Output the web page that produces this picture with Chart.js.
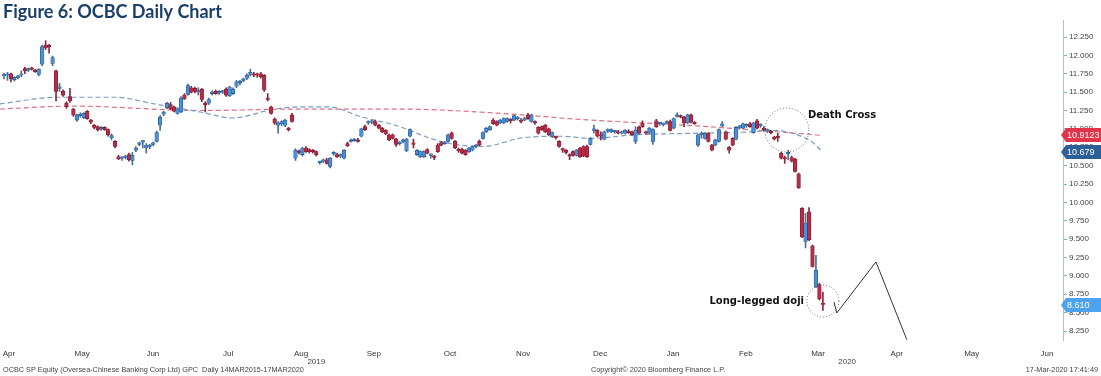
<!DOCTYPE html>
<html lang="en">
<head>
<meta charset="UTF-8" />
<title>OCBC Daily Chart</title>
<script src="https://cdn.jsdelivr.net/npm/chart.js"></script>
<style>
  html, body { margin: 0; padding: 0; background: #fff; }
  #wrap { width: 1101px; height: 376px; }
</style>
</head>
<body>
<div id="wrap"><canvas id="ocbc" width="1101" height="376"></canvas></div>
<script>
// daily candles, Apr 2019 - 17 Mar 2020 (index = trading day)
const opens = [
  11.72,11.73,11.75,11.67,11.70,11.73,11.82,11.80,11.82,11.80,11.74,11.88,12.14,12.13,11.89,11.79,11.55,11.51,11.35,11.44,
  11.27,11.12,11.18,11.15,11.24,11.12,11.05,11.03,11.00,11.02,10.99,10.88,10.83,10.62,10.60,10.61,10.65,10.57,10.71,10.79,
  10.82,10.74,10.76,10.79,10.83,11.05,11.20,11.29,11.33,11.30,11.21,11.23,11.46,11.47,11.56,11.55,11.50,11.54,11.35,11.35,
  11.48,11.51,11.49,11.50,11.54,11.45,11.48,11.58,11.63,11.66,11.69,11.74,11.75,11.74,11.75,11.73,11.42,11.30,11.13,11.05,
  11.07,11.05,11.00,11.19,10.60,10.69,10.65,10.74,10.72,10.71,10.69,10.54,10.56,10.58,10.49,10.66,10.65,10.63,10.60,10.80,
  10.83,10.84,10.85,10.90,11.03,11.08,11.09,11.10,11.05,11.01,10.98,10.92,10.92,10.86,10.80,10.83,10.70,10.90,10.80,10.65,
  10.62,10.62,10.72,10.64,10.62,10.78,10.81,10.80,10.83,10.94,10.83,10.72,10.72,10.71,10.69,10.71,10.76,10.83,10.87,10.96,
  10.99,11.12,11.10,11.08,11.08,11.10,11.12,11.12,11.14,11.12,11.12,11.19,11.10,11.09,11.02,11.03,11.05,11.00,10.90,10.89,
  10.83,10.72,10.71,10.64,10.69,10.64,10.74,10.76,10.76,10.79,10.98,10.98,10.92,10.86,10.97,10.96,10.96,10.96,10.94,10.94,
  10.97,10.96,10.83,11.02,11.08,10.95,10.94,10.83,11.11,11.07,11.06,11.08,11.10,11.01,11.17,11.17,11.16,11.08,11.19,11.08,
  10.78,10.92,10.87,10.94,10.78,10.78,10.83,11.04,10.96,10.75,10.87,10.86,11.02,11.01,11.04,11.07,10.95,11.11,11.04,11.01,
  10.97,10.96,10.89,10.89,10.67,10.60,10.66,10.61,10.59,10.39,9.92,9.47,9.87,9.41,8.85,8.88,8.63
];
const highs = [
  11.76,11.77,11.76,11.71,11.73,11.79,11.84,11.83,11.84,11.81,11.82,12.14,12.20,12.15,11.99,11.80,11.62,11.53,11.37,11.55,
  11.28,11.20,11.22,11.22,11.25,11.13,11.06,11.04,11.03,11.03,11.00,10.93,10.84,10.64,10.62,10.64,10.67,10.68,10.76,10.82,
  10.84,10.80,10.79,10.82,10.97,11.18,11.24,11.36,11.36,11.31,11.28,11.44,11.48,11.61,11.58,11.57,11.56,11.55,11.37,11.42,
  11.52,11.53,11.52,11.52,11.56,11.58,11.56,11.66,11.66,11.69,11.75,11.81,11.77,11.76,11.77,11.74,11.48,11.31,11.15,11.10,
  11.11,11.13,11.02,11.21,10.73,10.71,10.75,10.76,10.73,10.72,10.70,10.56,10.59,10.60,10.61,10.69,10.67,10.66,10.72,10.82,
  10.86,10.87,10.87,11.01,11.05,11.11,11.12,11.12,11.06,11.02,10.99,10.93,10.93,10.87,10.83,10.86,10.87,11.00,10.86,10.72,
  10.70,10.70,10.73,10.66,10.64,10.80,10.83,10.83,10.93,10.96,10.84,10.74,10.74,10.72,10.75,10.77,10.79,10.85,10.96,11.02,
  11.04,11.14,11.11,11.13,11.15,11.15,11.14,11.19,11.17,11.14,11.16,11.21,11.20,11.11,11.03,11.04,11.06,11.01,10.96,10.90,
  10.84,10.74,10.72,10.66,10.70,10.72,10.75,10.77,10.78,10.88,11.05,10.99,10.96,10.97,11.00,11.00,10.98,10.98,10.97,10.99,
  10.99,10.97,11.03,11.04,11.11,10.97,11.02,11.00,11.13,11.09,11.08,11.11,11.12,11.15,11.22,11.19,11.17,11.20,11.20,11.10,
  10.93,10.96,10.95,10.95,10.79,10.86,11.00,11.10,10.97,10.76,10.88,11.03,11.05,11.08,11.07,11.09,11.09,11.13,11.07,11.03,
  11.00,10.98,10.90,10.94,10.68,10.63,10.71,10.63,10.60,10.40,9.93,9.85,9.93,9.42,9.28,8.90,8.78
];
const lows = [
  11.68,11.66,11.64,11.65,11.68,11.71,11.75,11.78,11.80,11.77,11.72,11.86,12.08,12.03,11.86,11.38,11.51,11.44,11.28,11.36,
  11.17,11.10,11.16,11.14,11.13,11.07,11.00,10.97,10.98,10.98,10.90,10.85,10.74,10.58,10.57,10.59,10.56,10.51,10.69,10.77,
  10.74,10.67,10.73,10.77,10.82,10.98,11.18,11.27,11.26,11.23,11.20,11.22,11.40,11.46,11.49,11.49,11.46,11.37,11.23,11.33,
  11.46,11.47,11.47,11.48,11.44,11.44,11.47,11.56,11.60,11.64,11.67,11.72,11.71,11.70,11.69,11.51,11.38,11.20,11.06,10.94,
  11.04,11.03,10.97,11.09,10.57,10.66,10.63,10.68,10.67,10.67,10.63,10.52,10.54,10.52,10.47,10.64,10.61,10.61,10.59,10.76,
  10.82,10.83,10.82,10.89,10.98,11.06,11.07,11.04,11.00,10.95,10.92,10.84,10.86,10.76,10.78,10.81,10.69,10.89,10.74,10.64,
  10.61,10.61,10.66,10.60,10.58,10.68,10.77,10.79,10.82,10.86,10.73,10.68,10.66,10.64,10.68,10.70,10.74,10.77,10.86,10.95,
  10.98,11.06,11.04,11.07,11.07,11.09,11.08,11.11,11.12,11.08,11.11,11.13,11.09,11.06,10.93,10.98,10.95,10.91,10.88,10.86,
  10.75,10.68,10.66,10.58,10.63,10.63,10.61,10.62,10.61,10.78,10.94,10.89,10.85,10.85,10.95,10.95,10.94,10.93,10.93,10.93,
  10.94,10.91,10.80,10.93,11.02,10.93,10.93,10.79,11.02,11.05,11.04,11.07,10.97,11.00,11.16,11.15,11.03,11.07,11.08,11.06,
  10.76,10.87,10.86,10.82,10.70,10.77,10.82,11.03,10.85,10.67,10.77,10.85,11.00,11.00,11.02,11.02,10.94,11.00,11.02,10.97,
  10.95,10.93,10.85,10.83,10.59,10.53,10.58,10.55,10.41,10.19,9.52,9.38,9.48,9.12,8.84,8.67,8.53
];
const closes = [
  11.73,11.74,11.68,11.70,11.72,11.75,11.79,11.82,11.81,11.78,11.81,12.12,12.10,12.12,11.97,11.51,11.57,11.46,11.30,11.38,
  11.19,11.19,11.20,11.21,11.14,11.09,11.02,10.99,11.01,10.99,10.92,10.91,10.76,10.59,10.60,10.62,10.58,10.64,10.74,10.81,
  10.83,10.78,10.78,10.80,10.95,11.16,11.23,11.35,11.27,11.24,11.27,11.42,11.41,11.59,11.50,11.51,11.52,11.40,11.33,11.40,
  11.50,11.48,11.50,11.51,11.46,11.57,11.54,11.64,11.64,11.67,11.73,11.77,11.73,11.73,11.71,11.53,11.40,11.21,11.08,11.08,
  11.10,11.12,10.99,11.10,10.71,10.68,10.74,10.69,10.69,10.69,10.65,10.55,10.57,10.53,10.60,10.67,10.62,10.64,10.71,10.77,
  10.84,10.85,10.83,11.00,10.99,11.09,11.10,11.05,11.01,10.96,10.93,10.85,10.87,10.79,10.81,10.85,10.86,10.99,10.79,10.71,
  10.69,10.69,10.67,10.64,10.61,10.69,10.78,10.81,10.92,10.87,10.74,10.70,10.67,10.65,10.74,10.76,10.77,10.78,10.95,11.01,
  11.03,11.07,11.05,11.12,11.14,11.14,11.11,11.18,11.15,11.10,11.14,11.14,11.19,11.08,10.94,10.99,10.96,10.92,10.95,10.88,
  10.76,10.71,10.68,10.63,10.64,10.71,10.62,10.63,10.62,10.87,10.99,10.90,10.90,10.96,10.98,10.99,10.97,10.94,10.96,10.98,
  10.95,10.92,10.98,10.94,11.03,10.94,11.01,10.99,11.03,11.08,11.07,11.10,10.98,11.14,11.19,11.16,11.08,11.19,11.09,11.07,
  10.92,10.94,10.94,10.83,10.71,10.85,10.99,11.07,10.86,10.71,10.78,11.02,11.03,11.07,11.05,11.03,11.08,11.01,11.06,10.99,
  10.99,10.95,10.86,10.88,10.60,10.59,10.67,10.56,10.42,10.20,9.53,9.72,9.49,9.13,9.08,8.69,8.61
];

// moving averages (x = trading-day index)
const maShortX = [-1.2, 15.3, 32.6, 42.1, 56.5, 65.7, 78.1, 85.3, 93.4, 103.2, 112.7, 126.5, 138.0, 149.6, 161.1, 168.9, 181.8, 199.1, 215.6, 221.3, 227.1, 232.9, 236.0];
const maShortY = [11.34, 11.43, 11.43, 11.35, 11.23, 11.15, 11.27, 11.30, 11.30, 11.16, 11.05, 10.82, 10.76, 10.88, 10.90, 10.87, 10.92, 10.94, 10.96, 10.98, 10.94, 10.82, 10.68];
const maLongX = [-1.2, 19.9, 56.5, 85.3, 114.1, 140.1, 168.9, 196.3, 220.2, 236.0];
const maLongY = [11.27, 11.31, 11.25, 11.27, 11.27, 11.22, 11.12, 11.05, 10.97, 10.91];

// axis labels
const monthLabels = ['Apr', 'May', 'Jun', 'Jul', 'Aug', 'Sep', 'Oct', 'Nov', 'Dec', 'Jan', 'Feb', 'Mar', 'Apr', 'May', 'Jun'];
const monthPos = [1.4, 22.5, 42.9, 64.6, 85.6, 106.6, 128.5, 149.6, 171.8, 192.8, 213.8, 234.6, 257.3, 278.9, 300.6];
const yearLabels = ['2019', '2020'];
const yearPos = [90.0, 243.0];
const priceTicks = [8.25, 8.5, 8.75, 9, 9.25, 9.5, 9.75, 10, 10.25, 10.5, 10.75, 11, 11.25, 11.5, 11.75, 12, 12.25];

// last-value tags
const tagValues = [10.9123, 10.679, 8.61];
const tagTexts = ['10.9123', '10.679', '8.610'];
const tagColors = ['#e2334a', '#2b5f98', '#4da3ee'];

// hand-drawn projection zigzag
const zigX = [239.2, 240.0, 251.3, 260.2];
const zigY = [8.645, 8.495, 9.19, 8.13];

const UP_FILL = '#4b8fd6', UP_EDGE = '#1e4f86', UP_WICK = '#4a6f93';
const DN_FILL = '#b82c46', DN_EDGE = '#74182a', DN_WICK = '#8c2638';

const isUp = opens.map((o, i) => closes[i] >= o);

const overlay = {
  id: 'overlay',
  afterDraw(chart) {
    const { ctx, scales: { x, y } } = chart;
    ctx.save();

    // title
    ctx.fillStyle = '#1b3f6b';
    ctx.font = 'bold 18px Lato';
    ctx.textBaseline = 'alphabetic';
    ctx.textAlign = 'left';
    ctx.fillText('Figure 6: OCBC Daily Chart', 3, 18);

    // year labels under months
    ctx.fillStyle = '#444';
    ctx.font = '8px "Liberation Sans"';
    ctx.textAlign = 'center';
    yearLabels.forEach((t, i) => ctx.fillText(t, x.getPixelForValue(yearPos[i]), 364));

    // footer
    ctx.font = '7.3px "Liberation Sans"';
    ctx.textAlign = 'left';
    ctx.fillText('OCBC SP Equity (Oversea-Chinese Banking Corp Ltd) GPC  Daily 14MAR2015-17MAR2020', 3, 372);
    ctx.fillText('Copyright\u00a9 2020 Bloomberg Finance L.P.', 591, 372);
    ctx.textAlign = 'right';
    ctx.fillText('17-Mar-2020 17:41:49', 1098, 372);

    // dotted circles
    ctx.strokeStyle = '#666';
    ctx.lineWidth = 1;
    ctx.setLineDash([1, 2]);
    ctx.beginPath();
    ctx.arc(x.getPixelForValue(225.6), y.getPixelForValue(10.985), 22, 0, Math.PI * 2);
    ctx.stroke();
    ctx.beginPath();
    ctx.arc(x.getPixelForValue(236.0), y.getPixelForValue(8.658), 16, 0, Math.PI * 2);
    ctx.stroke();
    ctx.setLineDash([]);

    // zigzag
    ctx.strokeStyle = '#333';
    ctx.lineWidth = 1;
    ctx.beginPath();
    zigX.forEach((v, i) => {
      const px = x.getPixelForValue(v), py = y.getPixelForValue(zigY[i]);
      if (i === 0) ctx.moveTo(px, py); else ctx.lineTo(px, py);
    });
    ctx.stroke();

    // annotations
    ctx.fillStyle = '#111';
    ctx.font = 'bold 10px "DejaVu Sans"';
    ctx.textBaseline = 'middle';
    ctx.textAlign = 'left';
    ctx.fillText('Death Cross', 808, 115);
    ctx.textAlign = 'right';
    ctx.fillText('Long-legged doji', 804, 301);

    // value tags on the right axis
    ctx.font = '9px "Liberation Sans"';
    ctx.textAlign = 'left';
    tagValues.forEach((v, i) => {
      const yc = Math.round(y.getPixelForValue(v));
      ctx.fillStyle = tagColors[i];
      ctx.beginPath();
      ctx.moveTo(1061, yc);
      ctx.lineTo(1066, yc - 7);
      ctx.lineTo(1101, yc - 7);
      ctx.lineTo(1101, yc + 7);
      ctx.lineTo(1066, yc + 7);
      ctx.closePath();
      ctx.fill();
      ctx.fillStyle = '#fff';
      ctx.fillText(tagTexts[i], 1067, yc + 0.5);
    });

    ctx.restore();
  }
};

new Chart(document.getElementById('ocbc'), {
  type: 'bar',
  data: {
    datasets: [
      {
        label: 'Body',
        data: opens.map((o, i) => ({ x: i, y: [o, closes[i]] })),
        backgroundColor: isUp.map(u => u ? UP_FILL : DN_FILL),
        borderColor: isUp.map(u => u ? UP_EDGE : DN_EDGE),
        borderWidth: 0.6,
        borderSkipped: false,
        barThickness: 3.6,
        minBarLength: 1.5,
        grouped: false
      },
      {
        label: 'Wick',
        data: highs.map((h, i) => ({ x: i, y: [lows[i], h] })),
        backgroundColor: isUp.map(u => u ? UP_WICK : DN_WICK),
        borderWidth: 0,
        barThickness: 1,
        grouped: false
      },
      {
        type: 'line',
        label: 'MA short',
        data: maShortX.map((v, i) => ({ x: v, y: maShortY[i] })),
        borderColor: '#7b9cc0',
        borderWidth: 1.2,
        borderDash: [5, 3],
        pointRadius: 0,
        cubicInterpolationMode: 'monotone'
      },
      {
        type: 'line',
        label: 'MA long',
        data: maLongX.map((v, i) => ({ x: v, y: maLongY[i] })),
        borderColor: '#dc7484',
        borderWidth: 1.2,
        borderDash: [5, 3],
        pointRadius: 0,
        cubicInterpolationMode: 'monotone'
      }
    ]
  },
  options: {
    responsive: false,
    animation: false,
    layout: { padding: { top: 20, left: 0, right: 0, bottom: 0 } },
    plugins: { legend: { display: false }, tooltip: { enabled: false } },
    scales: {
      x: {
        type: 'linear',
        offset: false,
        min: -1.153,
        max: 305.2,
        grid: { display: false },
        border: { display: false },
        afterBuildTicks: s => { s.ticks = monthPos.map(v => ({ value: v })); },
        afterFit: s => { s.height = 36; },
        ticks: {
          autoSkip: false,
          maxRotation: 0,
          padding: 1,
          color: '#333',
          font: { family: 'Liberation Sans', size: 8 },
          callback: (v, i) => monthLabels[i]
        }
      },
      y: {
        position: 'right',
        min: 8.1276,
        max: 12.4813,
        grid: { drawOnChartArea: false, color: '#7fb2d9', tickLength: 4 },
        border: { color: '#9cc6e4' },
        afterBuildTicks: s => { s.ticks = priceTicks.map(v => ({ value: v })); },
        afterFit: s => { s.width = 38; },
        ticks: {
          autoSkip: false,
          padding: 2,
          color: '#444',
          font: { family: 'Liberation Sans', size: 8 },
          callback: v => v.toFixed(3)
        }
      }
    }
  },
  plugins: [overlay]
});
</script>
</body>
</html>
